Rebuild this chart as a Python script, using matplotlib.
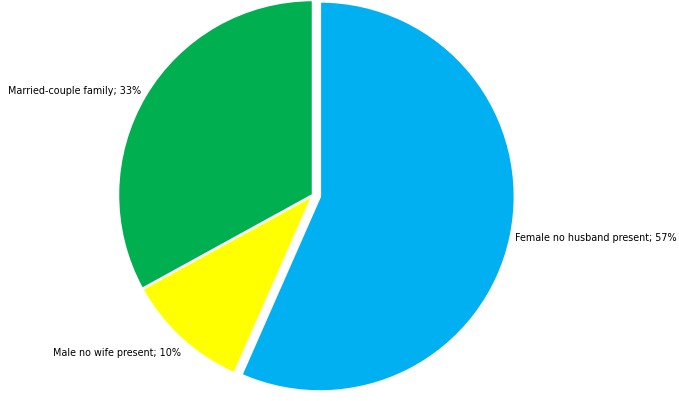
import matplotlib
matplotlib.use('Agg')
import matplotlib.pyplot as plt

# share of families by type (percent)
categories = ['Female no husband present', 'Male no wife present', 'Married-couple family']
values = [56.6, 10.4, 33.0]
colors = ['#00B0F0', '#FFFF00', '#00B050']

fig = plt.figure(figsize=(6.79, 4.02), dpi=100)
ax = fig.add_axes([0, 0, 1, 1])

# explode is in data units here (pixels), not a fraction of the radius
wedges, _ = ax.pie(values, colors=colors, startangle=90, counterclock=False,
                   center=(313, 206), radius=195, explode=[7, 0, 0],
                   wedgeprops=dict(edgecolor='white', linewidth=1.8), frame=True)
ax.set_xlim(0, 679)
ax.set_ylim(0, 402)
ax.set_aspect('equal')
ax.axis('off')

labels = [f'{c}; {v:.0f}%' for c, v in zip(categories, values)]
# label spots, left edge of text in pixel coords
spots = [(515, 164), (53, 48.5), (8, 311.5)]
for lab, (x, y) in zip(labels, spots):
    ax.text(x, y, lab, fontsize=6.95, ha='left', va='center', color='black')

fig.savefig('out.png', dpi=100)
